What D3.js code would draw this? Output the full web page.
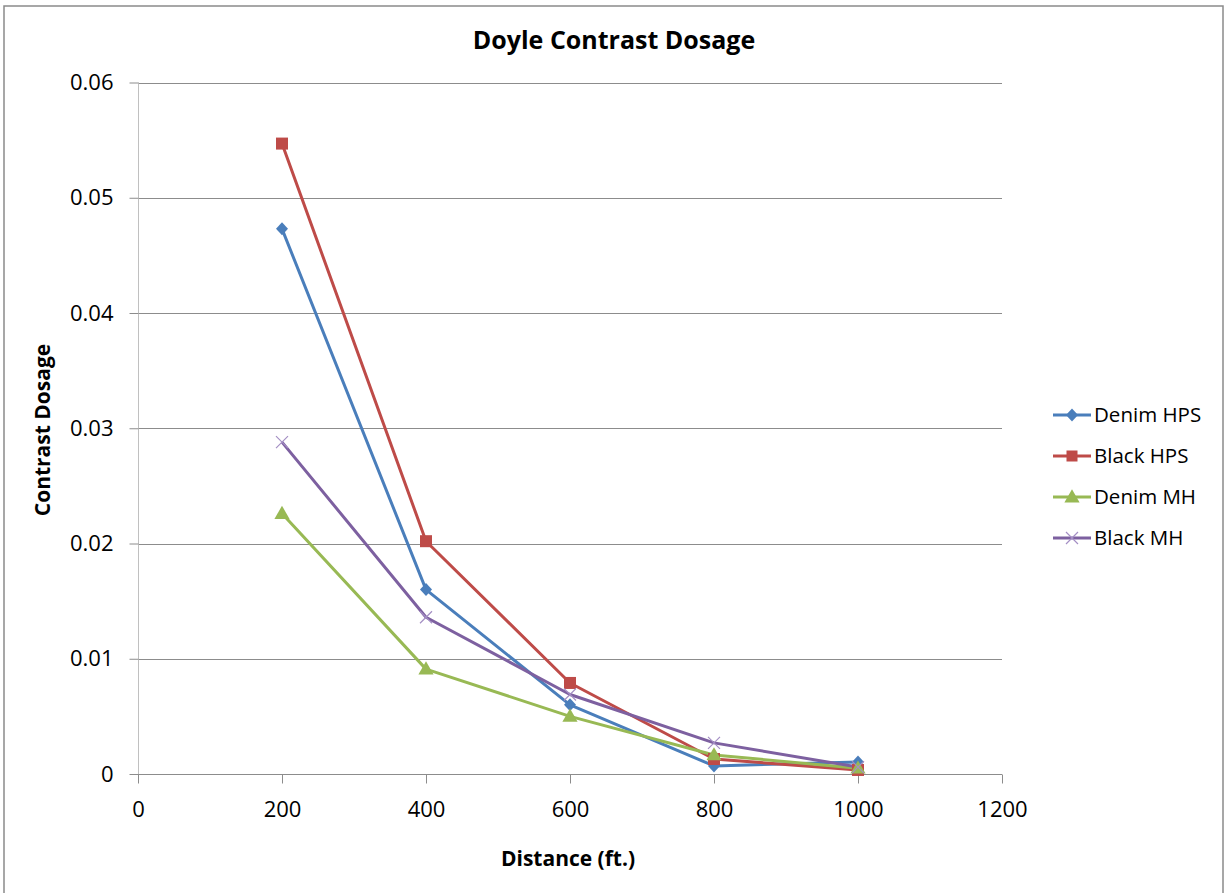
<!DOCTYPE html>
<html><head><meta charset="utf-8">
<script src="https://cdn.jsdelivr.net/npm/d3@7"></script>
<style>body{margin:0;background:#fff}svg{display:block;font-family:"Open Sans","Noto Sans",sans-serif}</style>
</head><body><svg id="c" width="1225" height="893"></svg>
<script>
const distances = [200, 400, 600, 800, 1000];
const seriesNames = ["Denim HPS", "Black HPS", "Denim MH", "Black MH"];
const denimHPS = [0.0473, 0.0160, 0.0060, 0.0007, 0.00105];
const blackHPS = [0.0547, 0.0202, 0.0079, 0.0013, 0.00035];
const denimMH  = [0.0226, 0.0091, 0.0050, 0.00165, 0.0005];
const blackMH  = [0.0288, 0.0136, 0.0069, 0.0027, 0.0006];
const xTicks = [0, 200, 400, 600, 800, 1000, 1200];
const yTicks = [0, 0.01, 0.02, 0.03, 0.04, 0.05, 0.06];
const colors = ["#4A7EBB", "#BE4B48", "#98B954", "#7D60A0"];
const markers = ["diamond", "square", "triangle", "x"];
const allSeries = [denimHPS, blackHPS, denimMH, blackMH];

const svg = d3.select("#c");
svg.append("rect").attr("x",4).attr("y",6).attr("width",1219).attr("height",890)
  .attr("fill","#fff").attr("stroke","#8a8a8a").attr("stroke-width",1.5);

const x = d3.scaleLinear().domain([0,1200]).range([138,1002]);
const y = d3.scaleLinear().domain([0,0.06]).range([774,82.5]);

// gridlines
svg.append("g").selectAll("line").data(yTicks.slice(1)).join("line")
  .attr("x1",x(0)).attr("x2",x(1200)).attr("y1",d=>Math.round(y(d))+0.5).attr("y2",d=>Math.round(y(d))+0.5)
  .attr("stroke","#8c8c8c").attr("stroke-width",1);

// y axis
const yAxis = d3.axisLeft(y).tickValues(yTicks).tickSize(9).tickPadding(16).tickFormat(d=>d===0?"0":d3.format(".2f")(d));
const gy = svg.append("g").attr("transform",`translate(${x(0)+0.5},0)`).call(yAxis);
gy.select(".domain").attr("stroke","#c0c0c0").attr("d",`M0,${y(0.06)}V${y(0)}`);
gy.selectAll(".tick line").attr("stroke","#8c8c8c");
gy.selectAll(".tick text").attr("font-size",22).attr("fill","#000").attr("font-family","'Open Sans',sans-serif");

// x axis
const xAxis = d3.axisBottom(x).tickValues(xTicks).tickSize(9).tickPadding(18).tickFormat(d3.format("d"));
const gx = svg.append("g").attr("transform",`translate(0,${Math.round(y(0))+0.5})`).call(xAxis);
gx.select(".domain").attr("stroke","#8c8c8c").attr("d",`M${x(0)},0H${x(1200)}`);
gx.selectAll(".tick line").attr("stroke","#8c8c8c");
gx.selectAll(".tick text").attr("font-size",22).attr("fill","#000").attr("font-family","'Open Sans',sans-serif");

// lines
const line = d3.line().x((d,i)=>x(distances[i])).y(d=>y(d));
function drawMarker(g, type, color, size){
  if(type==="diamond") g.append("path").attr("d","M0,-6.5L6,0L0,6.5L-6,0Z").attr("fill",color);
  else if(type==="square") g.append("rect").attr("x",-size/2).attr("y",-size/2).attr("width",size).attr("height",size).attr("fill",color);
  else if(type==="triangle") g.append("path").attr("d",d3.symbol(d3.symbolTriangle, 100)()).attr("fill",color).attr("transform","translate(0,1)");
  else if(type==="x") g.append("path").attr("d","M-6,-6L6,6M-6,6L6,-6").attr("stroke","#a48fc4").attr("stroke-width",1.2).attr("fill","none");
}
allSeries.forEach((s,k)=>{
  svg.append("path").datum(s).attr("d",line).attr("fill","none").attr("stroke",colors[k])
    .attr("stroke-width",3).attr("stroke-linejoin","round");
});
allSeries.forEach((s,k)=>{
  s.forEach((v,i)=>{
    const g = svg.append("g").attr("transform",`translate(${x(distances[i])},${y(v)})`);
    drawMarker(g, markers[k], colors[k], 12);
  });
});

// title
svg.append("text").attr("x",614).attr("y",49).attr("text-anchor","middle")
  .attr("font-size",25).attr("font-weight","bold").attr("fill","#000").text("Doyle Contrast Dosage");
// axis titles
svg.append("text").attr("x",568).attr("y",866).attr("text-anchor","middle")
  .attr("font-size",21).attr("font-weight","bold").attr("fill","#000").text("Distance (ft.)");
svg.append("text").attr("transform","translate(50,430) rotate(-90)").attr("text-anchor","middle")
  .attr("font-size",21).attr("font-weight","bold").attr("fill","#000").text("Contrast Dosage");

// legend
const leg = svg.append("g");
seriesNames.forEach((n,k)=>{
  const yy = 415 + k*41;
  const g = leg.append("g").attr("transform",`translate(1053,${yy})`);
  g.append("line").attr("x1",0).attr("x2",38).attr("y1",0).attr("y2",0).attr("stroke",colors[k]).attr("stroke-width",3);
  const m = g.append("g").attr("transform","translate(19,0)");
  drawMarker(m, markers[k], colors[k], 11);
  g.append("text").attr("x",41).attr("y",0).attr("dy","0.35em").attr("font-size",20.5).attr("fill","#000").text(n);
});
</script></body></html>
